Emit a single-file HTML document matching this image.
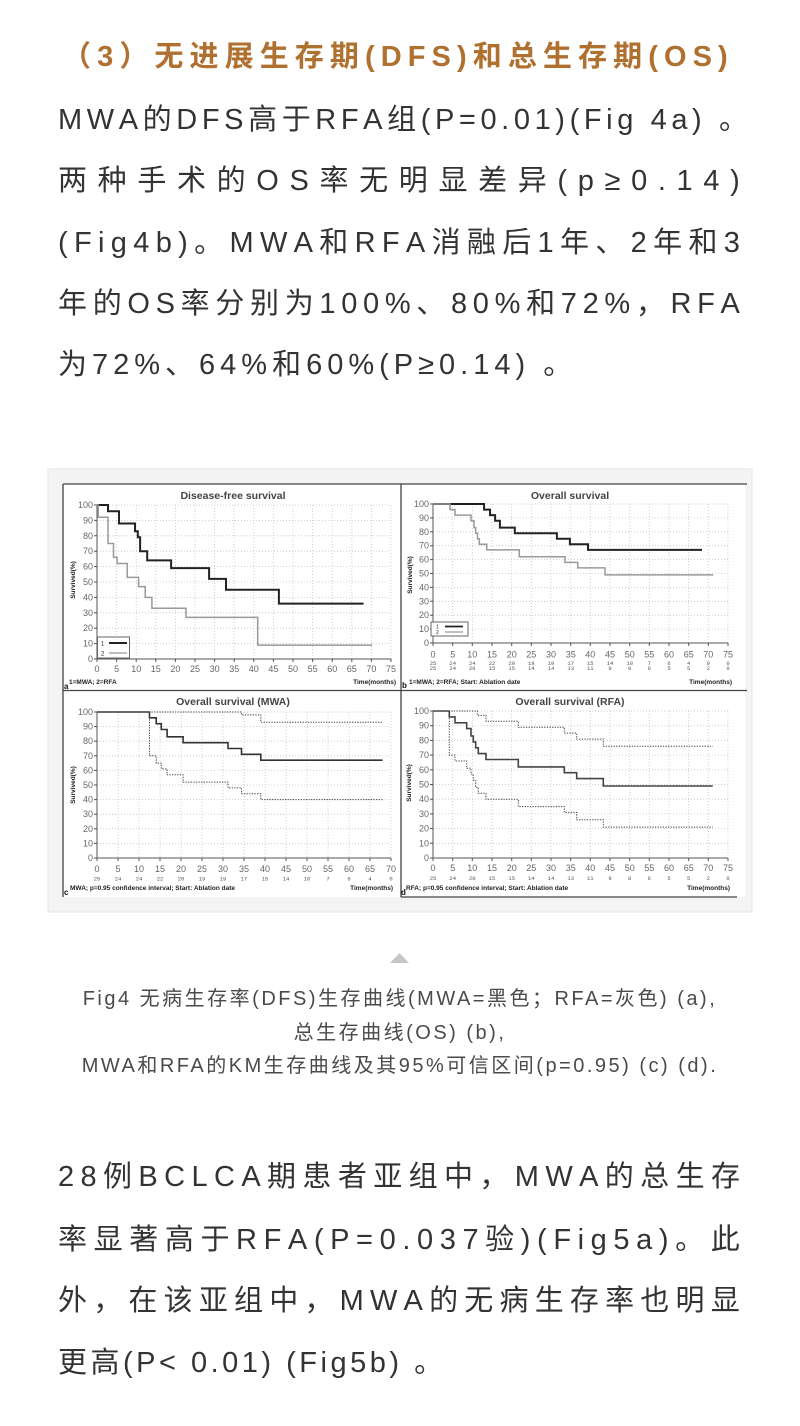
<!DOCTYPE html>
<html lang="zh-CN">
<head>
<meta charset="utf-8">
<style>
  html,body{margin:0;padding:0;background:#fff;}
  body{width:800px;height:1426px;position:relative;overflow:hidden;font-family:"Liberation Sans","Noto Sans CJK SC",sans-serif;}
  svg.fig{position:absolute;left:0;top:0;}
  .h{position:absolute;left:62px;width:666px;top:37px;height:40px;line-height:40px;font-size:29px;font-weight:700;color:#b0702f;display:flex;justify-content:space-between;white-space:nowrap;}
  .l{position:absolute;left:58px;width:682px;height:61px;line-height:61px;font-size:29px;color:#333;display:flex;justify-content:space-between;white-space:nowrap;}
  .n{position:absolute;left:58px;height:61px;line-height:61px;font-size:29px;color:#333;white-space:nowrap;}
  i{font-style:normal;}
  .c{position:absolute;left:0;width:800px;text-align:center;font-size:20px;letter-spacing:2.5px;color:#4a4a4a;height:34px;line-height:34px;white-space:nowrap;}
</style>
</head>
<body>

<svg class="fig" width="800" height="1426" viewBox="0 0 800 1426" xmlns="http://www.w3.org/2000/svg" font-family="Liberation Sans, sans-serif">
  <rect x="48" y="469" width="704" height="443" fill="#f4f4f4" stroke="#e6e6e6" stroke-width="1"/>
  <rect x="63" y="484" width="682" height="413" fill="#ffffff"/>
  <path d="M63 484V897M63 484H747M401 484V897M63 690.5H747M401 897H737" stroke="#444" stroke-width="1.3" fill="none"/>

  <g stroke="#c4c4c4" stroke-width="0.8" stroke-dasharray="1 2" fill="none">
    <path d="M116.6 505V659M136.2 505V659M155.8 505V659M175.4 505V659M195 505V659M214.6 505V659M234.2 505V659M253.8 505V659M273.4 505V659M293 505V659M312.6 505V659M332.2 505V659M351.8 505V659M371.4 505V659M391 505V659M97 643.6H391M97 628.2H391M97 612.8H391M97 597.4H391M97 582H391M97 566.6H391M97 551.2H391M97 535.8H391M97 520.4H391M97 505H391"/>
    <path d="M452.7 504V643M472.3 504V643M492 504V643M511.7 504V643M531.3 504V643M551 504V643M570.7 504V643M590.3 504V643M610 504V643M629.7 504V643M649.3 504V643M669 504V643M688.7 504V643M708.3 504V643M728 504V643M433 629.1H728M433 615.2H728M433 601.3H728M433 587.4H728M433 573.5H728M433 559.6H728M433 545.7H728M433 531.8H728M433 517.9H728M433 504H728"/>
    <path d="M118 712V858M139 712V858M160 712V858M181 712V858M202 712V858M223 712V858M244 712V858M265 712V858M286 712V858M307 712V858M328 712V858M349 712V858M370 712V858M391 712V858M97 843.4H391M97 828.8H391M97 814.2H391M97 799.6H391M97 785H391M97 770.4H391M97 755.8H391M97 741.2H391M97 726.6H391M97 712H391"/>
    <path d="M452.7 711V858M472.3 711V858M492 711V858M511.7 711V858M531.3 711V858M551 711V858M570.7 711V858M590.3 711V858M610 711V858M629.7 711V858M649.3 711V858M669 711V858M688.7 711V858M708.3 711V858M728 711V858M433 843.3H728M433 828.6H728M433 813.9H728M433 799.2H728M433 784.5H728M433 769.8H728M433 755.1H728M433 740.4H728M433 725.7H728M433 711H728"/>
  </g>

  <g stroke="#555" stroke-width="1" fill="none">
    <path d="M97 505V659H391M94 505H97M94 520.4H97M94 535.8H97M94 551.2H97M94 566.6H97M94 582H97M94 597.4H97M94 612.8H97M94 628.2H97M94 643.6H97M94 659H97M97 659V662M116.6 659V662M136.2 659V662M155.8 659V662M175.4 659V662M195 659V662M214.6 659V662M234.2 659V662M253.8 659V662M273.4 659V662M293 659V662M312.6 659V662M332.2 659V662M351.8 659V662M371.4 659V662M391 659V662"/>
    <path d="M433 504V643H728M430 504H433M430 517.9H433M430 531.8H433M430 545.7H433M430 559.6H433M430 573.5H433M430 587.4H433M430 601.3H433M430 615.2H433M430 629.1H433M430 643H433M433 643V646M452.7 643V646M472.3 643V646M492 643V646M511.7 643V646M531.3 643V646M551 643V646M570.7 643V646M590.3 643V646M610 643V646M629.7 643V646M649.3 643V646M669 643V646M688.7 643V646M708.3 643V646M728 643V646"/>
    <path d="M97 712V858H391M94 712H97M94 726.6H97M94 741.2H97M94 755.8H97M94 770.4H97M94 785H97M94 799.6H97M94 814.2H97M94 828.8H97M94 843.4H97M94 858H97M97 858V861M118 858V861M139 858V861M160 858V861M181 858V861M202 858V861M223 858V861M244 858V861M265 858V861M286 858V861M307 858V861M328 858V861M349 858V861M370 858V861M391 858V861"/>
    <path d="M433 711V858H728M430 711H433M430 725.7H433M430 740.4H433M430 755.1H433M430 769.8H433M430 784.5H433M430 799.2H433M430 813.9H433M430 828.6H433M430 843.3H433M430 858H433M433 858V861M452.7 858V861M472.3 858V861M492 858V861M511.7 858V861M531.3 858V861M551 858V861M570.7 858V861M590.3 858V861M610 858V861M629.7 858V861M649.3 858V861M669 858V861M688.7 858V861M708.3 858V861M728 858V861"/>
  </g>

  <g font-size="10.5" font-weight="bold" fill="#444" text-anchor="middle">
    <text x="233" y="499">Disease-free survival</text>
    <text x="570" y="499">Overall survival</text>
    <text x="233" y="705">Overall survival (MWA)</text>
    <text x="570" y="705">Overall survival (RFA)</text>
  </g>

  <g font-size="9" fill="#666" text-anchor="end">
    <text><tspan x="93" y="662">0</tspan><tspan x="93" y="646.6">10</tspan><tspan x="93" y="631.2">20</tspan><tspan x="93" y="615.8">30</tspan><tspan x="93" y="600.4">40</tspan><tspan x="93" y="585">50</tspan><tspan x="93" y="569.6">60</tspan><tspan x="93" y="554.2">70</tspan><tspan x="93" y="538.8">80</tspan><tspan x="93" y="523.4">90</tspan><tspan x="93" y="508">100</tspan></text>
    <text><tspan x="429" y="646">0</tspan><tspan x="429" y="632.1">10</tspan><tspan x="429" y="618.2">20</tspan><tspan x="429" y="604.3">30</tspan><tspan x="429" y="590.4">40</tspan><tspan x="429" y="576.5">50</tspan><tspan x="429" y="562.6">60</tspan><tspan x="429" y="548.7">70</tspan><tspan x="429" y="534.8">80</tspan><tspan x="429" y="520.9">90</tspan><tspan x="429" y="507">100</tspan></text>
    <text><tspan x="93" y="861">0</tspan><tspan x="93" y="846.4">10</tspan><tspan x="93" y="831.8">20</tspan><tspan x="93" y="817.2">30</tspan><tspan x="93" y="802.6">40</tspan><tspan x="93" y="788">50</tspan><tspan x="93" y="773.4">60</tspan><tspan x="93" y="758.8">70</tspan><tspan x="93" y="744.2">80</tspan><tspan x="93" y="729.6">90</tspan><tspan x="93" y="715">100</tspan></text>
    <text><tspan x="429" y="861">0</tspan><tspan x="429" y="846.3">10</tspan><tspan x="429" y="831.6">20</tspan><tspan x="429" y="816.9">30</tspan><tspan x="429" y="802.2">40</tspan><tspan x="429" y="787.5">50</tspan><tspan x="429" y="772.8">60</tspan><tspan x="429" y="758.1">70</tspan><tspan x="429" y="743.4">80</tspan><tspan x="429" y="728.7">90</tspan><tspan x="429" y="714">100</tspan></text>
  </g>

  <g font-size="9" fill="#666" text-anchor="middle">
    <text y="672"><tspan x="97">0</tspan><tspan x="116.6">5</tspan><tspan x="136.2">10</tspan><tspan x="155.8">15</tspan><tspan x="175.4">20</tspan><tspan x="195">25</tspan><tspan x="214.6">30</tspan><tspan x="234.2">35</tspan><tspan x="253.8">40</tspan><tspan x="273.4">45</tspan><tspan x="293">50</tspan><tspan x="312.6">55</tspan><tspan x="332.2">60</tspan><tspan x="351.8">65</tspan><tspan x="371.4">70</tspan><tspan x="391">75</tspan></text>
    <text y="657.5"><tspan x="433">0</tspan><tspan x="452.7">5</tspan><tspan x="472.3">10</tspan><tspan x="492">15</tspan><tspan x="511.7">20</tspan><tspan x="531.3">25</tspan><tspan x="551">30</tspan><tspan x="570.7">35</tspan><tspan x="590.3">40</tspan><tspan x="610">45</tspan><tspan x="629.7">50</tspan><tspan x="649.3">55</tspan><tspan x="669">60</tspan><tspan x="688.7">65</tspan><tspan x="708.3">70</tspan><tspan x="728">75</tspan></text>
    <text y="872"><tspan x="97">0</tspan><tspan x="118">5</tspan><tspan x="139">10</tspan><tspan x="160">15</tspan><tspan x="181">20</tspan><tspan x="202">25</tspan><tspan x="223">30</tspan><tspan x="244">35</tspan><tspan x="265">40</tspan><tspan x="286">45</tspan><tspan x="307">50</tspan><tspan x="328">55</tspan><tspan x="349">60</tspan><tspan x="370">65</tspan><tspan x="391">70</tspan></text>
    <text y="871"><tspan x="433">0</tspan><tspan x="452.7">5</tspan><tspan x="472.3">10</tspan><tspan x="492">15</tspan><tspan x="511.7">20</tspan><tspan x="531.3">25</tspan><tspan x="551">30</tspan><tspan x="570.7">35</tspan><tspan x="590.3">40</tspan><tspan x="610">45</tspan><tspan x="629.7">50</tspan><tspan x="649.3">55</tspan><tspan x="669">60</tspan><tspan x="688.7">65</tspan><tspan x="708.3">70</tspan><tspan x="728">75</tspan></text>
  </g>

  <g font-family="Liberation Mono, monospace" font-size="5.5" fill="#555" text-anchor="middle">
    <text y="665"><tspan x="433">25</tspan><tspan x="452.7">24</tspan><tspan x="472.3">24</tspan><tspan x="492">22</tspan><tspan x="511.7">20</tspan><tspan x="531.3">19</tspan><tspan x="551">19</tspan><tspan x="570.7">17</tspan><tspan x="590.3">15</tspan><tspan x="610">14</tspan><tspan x="629.7">10</tspan><tspan x="649.3">7</tspan><tspan x="669">6</tspan><tspan x="688.7">4</tspan><tspan x="708.3">0</tspan><tspan x="728">0</tspan></text>
    <text y="669.8"><tspan x="433">25</tspan><tspan x="452.7">24</tspan><tspan x="472.3">20</tspan><tspan x="492">15</tspan><tspan x="511.7">15</tspan><tspan x="531.3">14</tspan><tspan x="551">14</tspan><tspan x="570.7">13</tspan><tspan x="590.3">11</tspan><tspan x="610">9</tspan><tspan x="629.7">8</tspan><tspan x="649.3">6</tspan><tspan x="669">5</tspan><tspan x="688.7">5</tspan><tspan x="708.3">2</tspan><tspan x="728">0</tspan></text>
    <text y="880.5"><tspan x="97">25</tspan><tspan x="118">24</tspan><tspan x="139">24</tspan><tspan x="160">22</tspan><tspan x="181">20</tspan><tspan x="202">19</tspan><tspan x="223">19</tspan><tspan x="244">17</tspan><tspan x="265">15</tspan><tspan x="286">14</tspan><tspan x="307">10</tspan><tspan x="328">7</tspan><tspan x="349">6</tspan><tspan x="370">4</tspan><tspan x="391">0</tspan></text>
    <text y="880"><tspan x="433">25</tspan><tspan x="452.7">24</tspan><tspan x="472.3">20</tspan><tspan x="492">15</tspan><tspan x="511.7">15</tspan><tspan x="531.3">14</tspan><tspan x="551">14</tspan><tspan x="570.7">13</tspan><tspan x="590.3">11</tspan><tspan x="610">9</tspan><tspan x="629.7">8</tspan><tspan x="649.3">6</tspan><tspan x="669">5</tspan><tspan x="688.7">5</tspan><tspan x="708.3">2</tspan><tspan x="728">0</tspan></text>
  </g>

  <g font-size="6.5" font-weight="bold" fill="#222">
    <text x="69" y="684">1=MWA; 2=RFA</text>
    <text x="396" y="684" text-anchor="end">Time(months)</text>
    <text x="409" y="684">1=MWA; 2=RFA; Start: Ablation date</text>
    <text x="732" y="684" text-anchor="end">Time(months)</text>
    <text x="70" y="890">MWA; p=0.95 confidence interval; Start: Ablation date</text>
    <text x="393" y="890" text-anchor="end">Time(months)</text>
    <text x="406" y="890">RFA; p=0.95 confidence interval; Start: Ablation date</text>
    <text x="730" y="890" text-anchor="end">Time(months)</text>
    <text transform="translate(75,580) rotate(-90)" text-anchor="middle">Survived(%)</text>
    <text transform="translate(412,575) rotate(-90)" text-anchor="middle">Survived(%)</text>
    <text transform="translate(75,785) rotate(-90)" text-anchor="middle">Survived(%)</text>
    <text transform="translate(411,783) rotate(-90)" text-anchor="middle">Survived(%)</text>
  </g>
  <g font-size="8" font-weight="bold" fill="#111">
    <text x="64" y="689">a</text>
    <text x="402" y="688">b</text>
    <text x="64" y="895">c</text>
    <text x="401" y="895">d</text>
  </g>

  <rect x="97.5" y="637" width="32" height="21" fill="#fff" stroke="#666" stroke-width="1"/>
  <path d="M109 643H127" stroke="#222" stroke-width="2"/>
  <path d="M109 653H127" stroke="#999" stroke-width="1.3"/>
  <text x="101" y="645.5" font-size="6" fill="#222">1</text>
  <text x="101" y="655.5" font-size="6" fill="#222">2</text>

  <rect x="431" y="622" width="37" height="14" fill="#fff" stroke="#666" stroke-width="1"/>
  <path d="M445 626.5H463" stroke="#222" stroke-width="1.8"/>
  <path d="M445 632H463" stroke="#999" stroke-width="1.2"/>
  <text x="436" y="628.5" font-size="5" fill="#222">1</text>
  <text x="436" y="634" font-size="5" fill="#222">2</text>

  <path d="M97 505H108V511.2H119V523.5H135V531.2H137.8V537.3H140.1V551.2H147.2V560.4H171.1V568.1H209.1V578.9H226V589.7H278.9V603.6H363.6" stroke="#222" stroke-width="2" fill="none"/>
  <path d="M97 505H98.2V517.3H108V543.5H113.5V557.4H117V563.5H127.2V577.4H138.6V586.6H145.2V597.4H151.9V608.2H186V617.4H257.7V645.1H372.2" stroke="#999" stroke-width="1.5" fill="none"/>

  <path d="M433 504H484.1V509.6H490V515.1H495.1V520.7H499.9V527.6H514.8V533.2H556.9V538.8H569.9V544.3H588V549.9H702" stroke="#222" stroke-width="2" fill="none"/>
  <path d="M433 504H450V509.6H455V515.1H471V520.7H474V527.6H475.7V533.2H477.5V538.8H479.3V544.3H486.7V549.9H519.3V556.8H565V562.4H577.7V567.9H605V574.9H713.3" stroke="#999" stroke-width="1.5" fill="none"/>

  <path d="M97 712H149.5V717.8H156.2V723.7H161.3V729.5H167.1V736.8H183.1V742.7H228V748.5H241.5V754.3H260.8V760.2H382.6" stroke="#333" stroke-width="1.6" fill="none"/>
  <g stroke="#444" stroke-width="1" stroke-dasharray="1.3 1.3" fill="none">
    <path d="M97 712H241.5V714.9H260.8V722.2H382.6"/>
    <path d="M97 712H149.5V755.8H156.2V763.1H161.3V768.9H167.1V774.8H183.1V782.1H228V787.9H241.5V793.8H260.8V799.6H382.6"/>
  </g>

  <path d="M433 711H449.3V716.9H455V722.8H466.7V728.6H471V736H473.3V741.9H475.7V747.8H478.3V753.6H486V759.5H518.3V766.9H564.3V772.7H576.7V778.6H603.3V786H712.7" stroke="#444" stroke-width="1.6" fill="none"/>
  <g stroke="#444" stroke-width="1" stroke-dasharray="1.3 1.3" fill="none">
    <path d="M433 711H477.3V715.4H486V721.3H518.3V727.2H564.3V733.1H576.7V739.1H603.3V746.3H712.7"/>
    <path d="M433 711H449.3V755.1H455V761H466.7V768.3H471V774.2H473.3V780.1H475.7V787.4H478.3V793.3H486V799.2H518.3V806.6H564.3V812.4H576.7V819.8H603.3V827.1H712.7"/>
  </g>

  <polygon points="390,963 409,963 399.5,953" fill="#c6c6c6"/>
</svg>

<div class="h"><i>（</i><i>3</i><i>）</i><i>无</i><i>进</i><i>展</i><i>生</i><i>存</i><i>期</i><i>(</i><i>D</i><i>F</i><i>S</i><i>)</i><i>和</i><i>总</i><i>生</i><i>存</i><i>期</i><i>(</i><i>O</i><i>S</i><i>)</i></div>

<div class="l" style="top:89.5px;width:690px;"><i>M</i><i>W</i><i>A</i><i>的</i><i>D</i><i>F</i><i>S</i><i>高</i><i>于</i><i>R</i><i>F</i><i>A</i><i>组</i><i>(</i><i>P</i><i>=</i><i>0</i><i>.</i><i>0</i><i>1</i><i>)</i><i>(</i><i>F</i><i>i</i><i>g</i><i>&nbsp;</i><i>4</i><i>a</i><i>)</i><i>&nbsp;</i><i>。</i></div>
<div class="l" style="top:150.5px;"><i>两</i><i>种</i><i>手</i><i>术</i><i>的</i><i>O</i><i>S</i><i>率</i><i>无</i><i>明</i><i>显</i><i>差</i><i>异</i><i>(</i><i>p</i><i>≥</i><i>0</i><i>.</i><i>1</i><i>4</i><i>)</i></div>
<div class="l" style="top:212.5px;"><i>(</i><i>F</i><i>i</i><i>g</i><i>4</i><i>b</i><i>)</i><i>。</i><i>M</i><i>W</i><i>A</i><i>和</i><i>R</i><i>F</i><i>A</i><i>消</i><i>融</i><i>后</i><i>1</i><i>年</i><i>、</i><i>2</i><i>年</i><i>和</i><i>3</i></div>
<div class="l" style="top:273.5px;"><i>年</i><i>的</i><i>O</i><i>S</i><i>率</i><i>分</i><i>别</i><i>为</i><i>1</i><i>0</i><i>0</i><i>%</i><i>、</i><i>8</i><i>0</i><i>%</i><i>和</i><i>7</i><i>2</i><i>%</i><i>，</i><i>R</i><i>F</i><i>A</i></div>
<div class="n" style="top:334.5px;letter-spacing:5px;">为72%、64%和60%(P≥0.14) 。</div>

<div class="c" style="top:982px;">Fig4 无病生存率(DFS)生存曲线(MWA=黑色；RFA=灰色) (a),</div>
<div class="c" style="top:1016px;">总生存曲线(OS) (b),</div>
<div class="c" style="top:1049px;">MWA和RFA的KM生存曲线及其95%可信区间(p=0.95) (c) (d).</div>

<div class="l" style="top:1146.5px;"><i>2</i><i>8</i><i>例</i><i>B</i><i>C</i><i>L</i><i>C</i><i>A</i><i>期</i><i>患</i><i>者</i><i>亚</i><i>组</i><i>中</i><i>，</i><i>M</i><i>W</i><i>A</i><i>的</i><i>总</i><i>生</i><i>存</i></div>
<div class="l" style="top:1209.5px;"><i>率</i><i>显</i><i>著</i><i>高</i><i>于</i><i>R</i><i>F</i><i>A</i><i>(</i><i>P</i><i>=</i><i>0</i><i>.</i><i>0</i><i>3</i><i>7</i><i>验</i><i>)</i><i>(</i><i>F</i><i>i</i><i>g</i><i>5</i><i>a</i><i>)</i><i>。</i><i>此</i></div>
<div class="l" style="top:1270.5px;"><i>外</i><i>，</i><i>在</i><i>该</i><i>亚</i><i>组</i><i>中</i><i>，</i><i>M</i><i>W</i><i>A</i><i>的</i><i>无</i><i>病</i><i>生</i><i>存</i><i>率</i><i>也</i><i>明</i><i>显</i></div>
<div class="n" style="top:1332.5px;letter-spacing:3.5px;">更高(P&lt; 0.01) (Fig5b) 。</div>

</body>
</html>
